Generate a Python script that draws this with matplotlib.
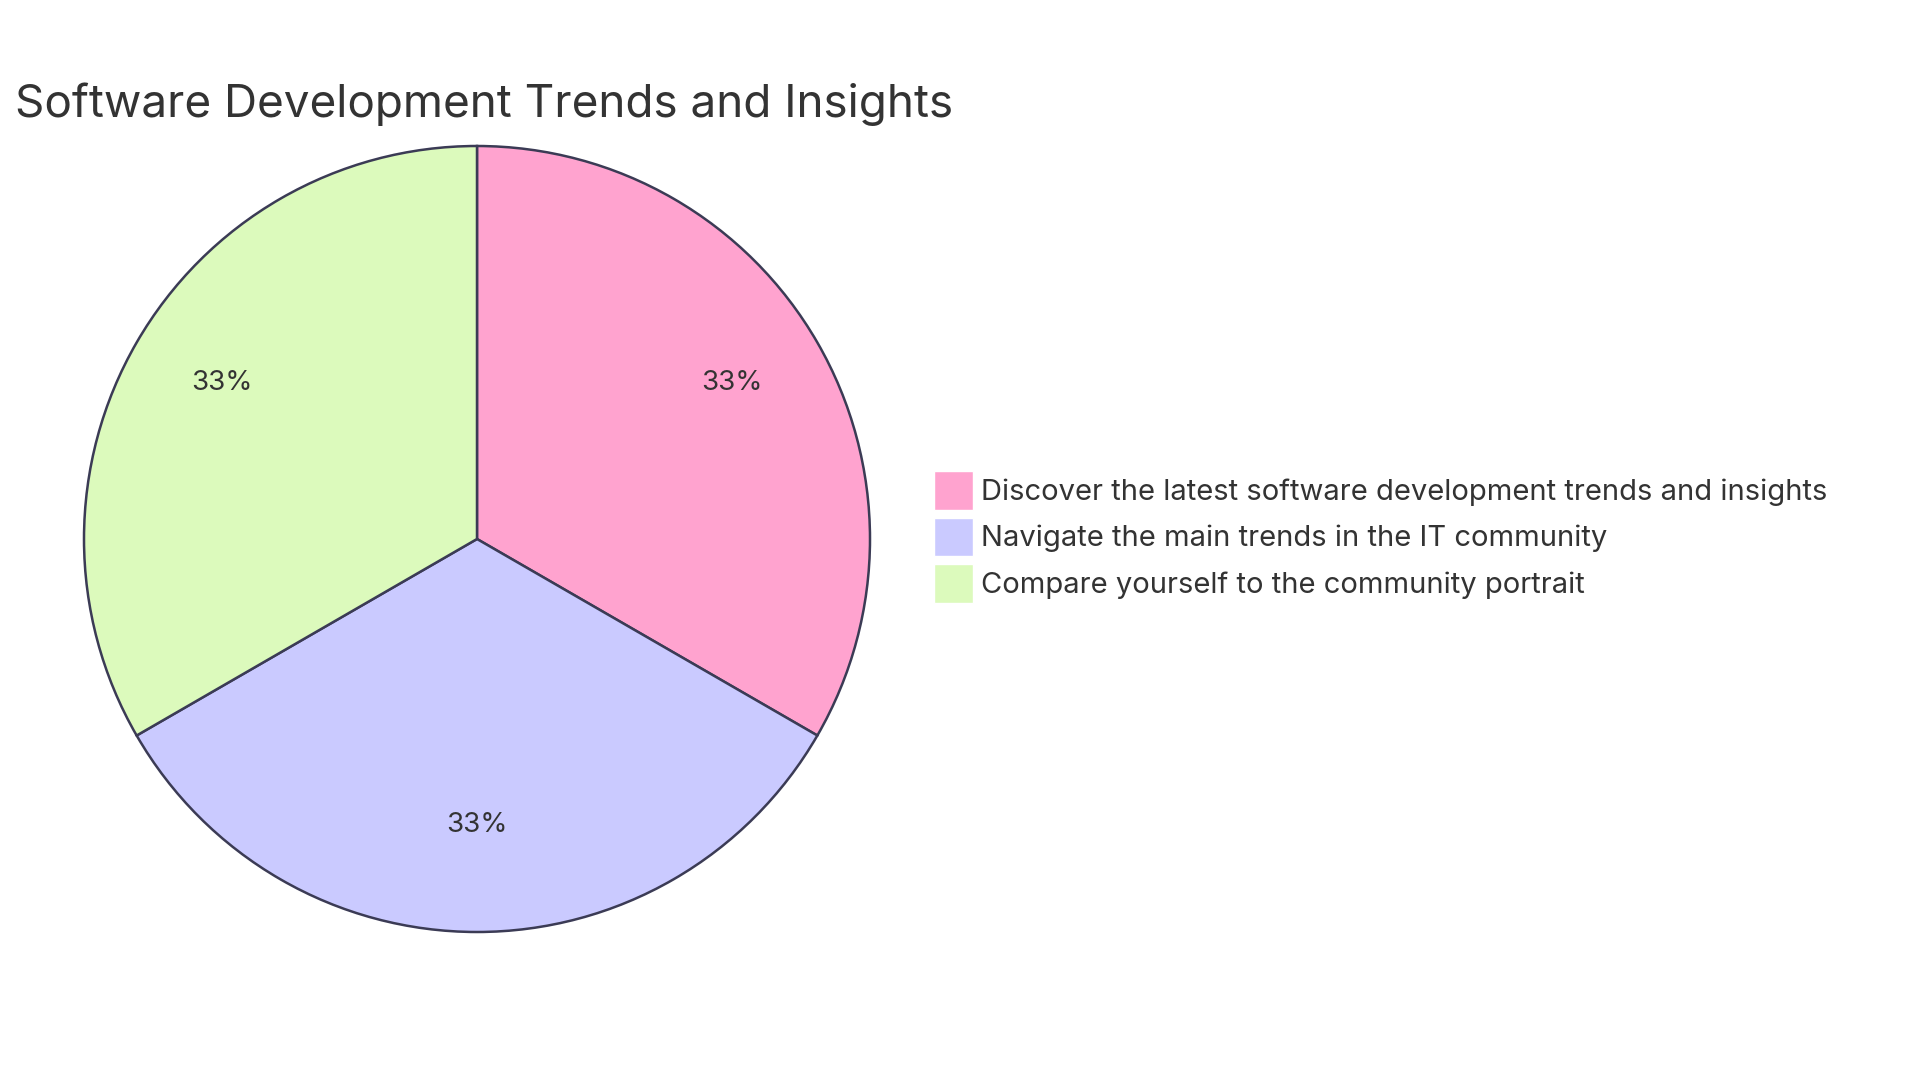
import matplotlib.pyplot as plt

# chart data
labels = ['Discover the latest software development trends and insights',
          'Navigate the main trends in the IT community',
          'Compare yourself to the community portrait']
values = [1, 1, 1]
colors = ['#FFA3CF', '#CACAFF', '#DCFABC']
title = 'Software Development Trends and Insights'

plt.rcParams['font.family'] = ['Inter', 'DejaVu Sans']
textcol = '#333333'
edgecol = '#3B3B55'

fig = plt.figure(figsize=(19.2, 10.8), dpi=100)
fig.patch.set_facecolor('white')

# pie centre (477, 539) px, radius 393 px
cx, cy, r = 477, 539, 393
ax = fig.add_axes([(cx - r) / 1920, (1080 - cy - r) / 1080, 2 * r / 1920, 2 * r / 1080])

wedges, texts, autotexts = ax.pie(
    values, colors=colors, startangle=90, counterclock=False,
    autopct='%1.0f%%', pctdistance=0.75,
    wedgeprops=dict(edgecolor=edgecol, linewidth=1.8),
    textprops=dict(color=textcol, fontsize=20))
ax.set_xlim(-1.0, 1.0)
ax.set_ylim(-1.0, 1.0)
ax.set_aspect('equal')
# labels sit a little above their anchor point
for t in autotexts:
    x, y = t.get_position()
    t.set_position((x, y + 9 / r))

fig.text(15 / 1920, 1 - 117 / 1080, title, fontsize=33, color=textcol, va='baseline', ha='left')

leg = fig.legend(wedges, labels, loc='center left', bbox_to_anchor=(934 / 1920, 1 - 537 / 1080),
                 frameon=False, fontsize=21, handlelength=1.34, handleheight=1.68,
                 handletextpad=0.28, labelspacing=0.26, borderpad=0, borderaxespad=0)
for t in leg.get_texts():
    t.set_color(textcol)
for h in leg.legend_handles:
    h.set_edgecolor('white')
    h.set_linewidth(1)

fig.savefig('out.png', dpi=100)
